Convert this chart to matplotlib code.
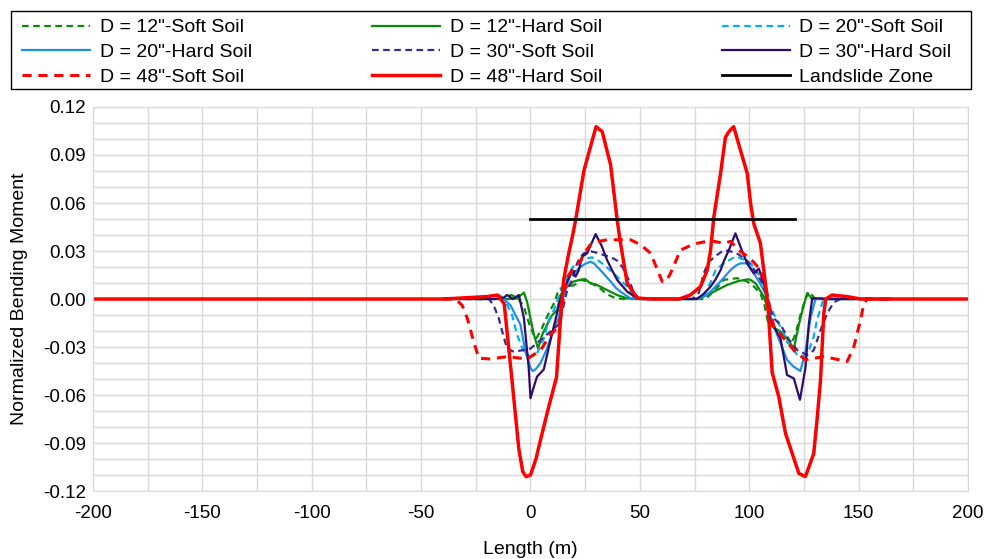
import numpy as np
from matplotlib import pyplot as plt
from matplotlib.ticker import MultipleLocator
from matplotlib.patches import Rectangle

plt.rcParams['font.family'] = ['Liberation Sans', 'DejaVu Sans']
plt.rcParams['axes.unicode_minus'] = False

# ---- data (Length m, normalized moment) ----
# D = 12" soft soil
x_12_soft = [-40, -35, -25, -12, -9, -6, -3, 0, 2.5, 5, 6.9, 9.1, 11, 12.9, 16, 19.8, 23, 26, 29, 32, 35, 38, 42,
             80, 84, 88.4, 94.5, 99, 102, 105.1, 107, 108.5, 112.8, 118.9, 121.1, 123.4, 125.7, 127.2, 130.3, 155, 160]
y_12_soft = [0, 0.0005, 0, 0, 0.0025, 0.001, -0.005, -0.018, -0.025, -0.019, -0.013, -0.007, -0.002, 0.006, 0.008,
             0.0085, 0.012, 0.011, 0.009, 0.0065, 0.003, 0.001, 0,
             0, 0.005, 0.012, 0.013, 0.011, 0.008, 0.0036, -0.004, -0.014, -0.02, -0.029, -0.022, -0.01, 0, 0.0046,
             0, 0.0005, 0]

# D = 12" hard soil
x_12_hard = [-40, -10, -6.1, -3, -1.5, 0, 1.5, 3.5, 5.3, 7.6, 9.9, 12.2, 13.7, 16.8, 19.8, 22.9, 25, 27.4, 30, 32,
             35, 39.6, 44.2, 48, 76.2, 80.8, 85.3, 89.9, 94.5, 99.1, 100.5, 102.9, 106.7, 108, 111.2, 114, 117.3,
             120.4, 122.7, 124.9, 126.5, 128.8, 165]
y_12_hard = [0, 0, 0.0004, 0.004, -0.002, -0.012, -0.022, -0.031, -0.0225, -0.016, -0.01, -0.007, 0.0025, 0.0077,
             0.011, 0.012, 0.0125, 0.0098, 0.009, 0.0077, 0.0056, 0.0025, 0.0004, 0, 0, 0.0025, 0.0056, 0.0088,
             0.011, 0.0123, 0.012, 0.0098, 0.0015, -0.004, -0.018, -0.02, -0.0246, -0.031, -0.016, -0.004, 0.0036,
             0, 0]

# D = 20" soft soil
x_20_soft = [-40, -12, -8.4, -6.1, -3, 0, 3, 6, 8.4, 11, 13, 16, 19.8, 24.4, 28, 30, 34, 39.6, 44.2, 47, 50,
             77, 80, 82.5, 84.6, 88, 93.7, 97, 100.6, 105.1, 108, 110, 113, 116, 119, 122, 125, 127, 129.5, 131,
             132.6, 134, 165]
y_20_soft = [0, 0, -0.01, -0.0225, -0.033, -0.036, -0.034, -0.025, -0.013, -0.006, 0.002, 0.012, 0.021, 0.025,
             0.026, 0.025, 0.021, 0.014, 0.0077, 0.002, 0,
             0, 0.004, 0.011, 0.018, 0.022, 0.0265, 0.025, 0.0223, 0.014, 0.004, -0.006, -0.014, -0.022, -0.03,
             -0.035, -0.036, -0.033, -0.0235, -0.013, -0.006, 0, 0]

# D = 20" hard soil
x_20_hard = [-40, -13.7, -9.1, -4.6, -2.3, 0, 1, 2.3, 4.6, 7.6, 10.7, 12.9, 14.5, 16, 18.3, 20.5, 22.9, 25, 27.4,
             29, 32, 34, 36.6, 39, 41.1, 45.7, 50, 75, 76.9, 80, 82.3, 86.9, 91.4, 94, 96, 99, 101.3, 104.4, 107.4,
             108.9, 112.8, 117.3, 120, 123.4, 125.7, 128, 130.3, 165]
y_20_hard = [0, 0.002, -0.004, -0.016, -0.033, -0.043, -0.045, -0.044, -0.04, -0.031, -0.018, -0.012, 0, 0.006,
             0.015, 0.017, 0.02, 0.022, 0.0233, 0.0223, 0.018, 0.015, 0.011, 0.007, 0.0046, 0.0004, 0, 0, 0.0004,
             0.002, 0.0046, 0.011, 0.018, 0.021, 0.0223, 0.0223, 0.018, 0.011, 0.0036, -0.008, -0.0225, -0.038,
             -0.042, -0.045, -0.033, -0.012, 0, 0]

# D = 30" soft soil
x_30_soft = [-40, -19, -16.8, -14.5, -12.9, -10.7, -7.6, -3.8, 0, 4.6, 9.1, 12.9, 14.5, 16.5, 19, 21.3, 22.9, 24.4,
             27, 30, 33.5, 37, 39.6, 42, 44.2, 45.7, 47.2, 50, 74, 77, 79.2, 81.5, 85.3, 88.4, 91, 95, 99, 103.6,
             106, 108, 109.5, 111.2, 114.3, 118, 122, 126.5, 129.5, 133, 135.6, 138.7, 141.7, 165]
y_30_soft = [0, 0, -0.004, -0.012, -0.0204, -0.031, -0.033, -0.032, -0.031, -0.0256, -0.0204, -0.016, -0.008,
             0.004, 0.012, 0.0223, 0.0265, 0.0285, 0.03, 0.029, 0.0275, 0.026, 0.024, 0.02, 0.014, 0.0098, 0.0036,
             0, 0, 0.004, 0.016, 0.0233, 0.0275, 0.0306, 0.03, 0.028, 0.024, 0.016, 0.0098, 0.002, -0.006, -0.012,
             -0.016, -0.025, -0.032, -0.035, -0.032, -0.018, -0.009, -0.002, 0, 0]

# D = 30" hard soil
x_30_hard = [-40, -16, -12, -10.7, -8, -5.3, -3, -0.8, 0, 1.5, 3, 6.1, 8.4, 10.7, 13.7, 16.8, 19, 20.6, 22.1,
             23.6, 25.9, 29.8, 32.7, 35, 37.3, 39.6, 44.2, 48.8, 76, 79, 82.3, 84.5, 86.9, 88.5, 90.7, 93.7, 96, 99,
             102.1, 104.4, 106.7, 108, 109.7, 112, 114.3, 117.3, 120.4, 123.2, 125.7, 127.2, 128.8, 132.6, 135, 165]
y_30_hard = [0, 0, 0.001, 0.0025, 0, 0.0025, -0.012, -0.043, -0.062, -0.055, -0.0485, -0.044, -0.03, -0.017, 0,
             0.011, 0.018, 0.014, 0.018, 0.0265, 0.0285, 0.0406, 0.0327, 0.0244, 0.018, 0.012, 0.0046, 0.0004,
             0, 0.003, 0.0077, 0.012, 0.018, 0.024, 0.0306, 0.041, 0.0327, 0.0223, 0.016, 0.019, 0.0098, 0.002,
             -0.014, -0.019, -0.0246, -0.0475, -0.0496, -0.063, -0.043, -0.016, 0.0004, 0.0004, 0, 0]

# D = 48" soft soil
x_48_soft = [-40, -34.3, -31.2, -28.9, -25.9, -23.6, -18.3, -10.7, -1.5, 4.6, 9.1, 12.9, 14, 15.5, 17, 19.5, 22.9,
             25.1, 27.4, 31.2, 35, 39.6, 45.7, 50.3, 54.9, 57.5, 60.2, 62, 64, 68.6, 74.7, 82.3, 88.4, 91.4, 96,
             100, 104, 107, 109, 111.2, 115.8, 121.1, 125.7, 134.1, 144.8, 147.8, 150.9, 152.4, 153.9, 165]
y_48_soft = [0, 0, -0.004, -0.012, -0.027, -0.037, -0.0375, -0.036, -0.0375, -0.032, -0.0225, -0.017, -0.01,
             0.005, 0.014, 0.019, 0.024, 0.0296, 0.034, 0.036, 0.037, 0.037, 0.037, 0.034, 0.0286, 0.02, 0.011,
             0.011, 0.016, 0.0306, 0.0344, 0.0365, 0.0348, 0.036, 0.0296, 0.026, 0.02, 0.012, -0.003, -0.017,
             -0.0246, -0.033, -0.038, -0.036, -0.039, -0.03, -0.013, -0.003, 0, 0]

# D = 48" hard soil
x_48_hard = [-200, -40, -20, -15, -12, -8.5, -5.3, -3.5, -2, 0, 2.5, 4.6, 8.4, 11.9, 13.7, 15.2, 16, 17.5, 19,
             20.6, 24.4, 28.2, 30, 32.8, 36.6, 39.6, 40.8, 44.2, 48.8, 55, 68, 73.1, 77.7, 80.8, 82.3, 83.8, 86.9,
             89.1, 90.7, 92.9, 96, 99.1, 100.6, 102.1, 105.1, 107.4, 108.7, 110.5, 113.5, 116.6, 122.7, 125.7,
             129.5, 131, 132.6, 134.1, 135, 137.9, 144.8, 151, 200]
y_48_hard = [0, 0, 0.0015, 0.0025, -0.003, -0.05, -0.094, -0.108, -0.111, -0.11, -0.1, -0.088, -0.067, -0.049,
             -0.013, 0.012, 0.018, 0.0285, 0.038, 0.049, 0.08, 0.099, 0.1077, 0.1046, 0.084, 0.05, 0.038, 0.0098,
             0.0006, 0, 0, 0.0025, 0.0077, 0.018, 0.03, 0.051, 0.0785, 0.101, 0.1046, 0.1077, 0.093, 0.0785, 0.06,
             0.047, 0.035, 0.0098, -0.007, -0.046, -0.061, -0.084, -0.109, -0.111, -0.0965, -0.0756, -0.0506,
             -0.009, 0, 0.0025, 0.0015, 0, 0]

# landslide zone
x_slide = [0, 121]
y_slide = [0.05, 0.05]

green = '#0a8a0a'
lblue = '#00b0f0'
blue = '#1f8fe5'
purple = '#3f2a8a'
navy = '#2b0c6e'
red = '#ff0000'

fig = plt.figure(figsize=(9.85, 5.59), dpi=100)
ax = fig.add_axes([0.0944, 0.1216, 0.8883, 0.687])

h = {}
h['12s'], = ax.plot(x_12_soft, y_12_soft, color=green, lw=1.6, dashes=(3, 2), label='D = 12"-Soft Soil')
h['12h'], = ax.plot(x_12_hard, y_12_hard, color=green, lw=1.6, label='D = 12"-Hard Soil')
h['20s'], = ax.plot(x_20_soft, y_20_soft, color=lblue, lw=1.6, dashes=(3, 2), label='D = 20"-Soft Soil')
h['20h'], = ax.plot(x_20_hard, y_20_hard, color=blue, lw=1.6, label='D = 20"-Hard Soil')
h['30s'], = ax.plot(x_30_soft, y_30_soft, color=purple, lw=1.6, dashes=(3, 2), label='D = 30"-Soft Soil')
h['30h'], = ax.plot(x_30_hard, y_30_hard, color=navy, lw=1.6, label='D = 30"-Hard Soil')
h['48s'], = ax.plot(x_48_soft, y_48_soft, color=red, lw=2.2, dashes=(3, 2.2), label='D = 48"-Soft Soil')
h['48h'], = ax.plot(x_48_hard, y_48_hard, color=red, lw=2.5, label='D = 48"-Hard Soil')
h['lz'], = ax.plot(x_slide, y_slide, color='black', lw=2.0, label='Landslide Zone')

ax.set_xlim(-200, 200)
ax.set_ylim(-0.12, 0.12)
ax.xaxis.set_major_locator(MultipleLocator(50))
ax.xaxis.set_minor_locator(MultipleLocator(25))
ax.yaxis.set_major_locator(MultipleLocator(0.03))
ax.yaxis.set_minor_locator(MultipleLocator(0.01))
ax.yaxis.set_major_formatter(lambda v, p: f'{v:.2f}')
ax.grid(which='both', color='#d9d9d9', lw=1.0)
ax.set_axisbelow(True)
for s in ax.spines.values():
    s.set_color('#d9d9d9')
ax.tick_params(which='both', length=0, labelsize=13.5, colors='black')
ax.tick_params(axis='x', pad=10)
ax.tick_params(axis='y', pad=5)

ax.set_xlabel('Length (m)', fontsize=14)
ax.set_ylabel('Normalized Bending Moment', fontsize=14)
ax.xaxis.set_label_coords(0.5, -0.13)
ax.yaxis.set_label_coords(-0.074, 0.5)

# legend is filled column by column, so reorder to get the row layout
order = ['12s', '20h', '48s', '12h', '30s', '48h', '20s', '30h', 'lz']
fig.legend([h[k] for k in order], [h[k].get_label() for k in order],
           loc='upper left', bbox_to_anchor=(0.0142, 0.0, 0.960, 0.981), mode='expand', ncol=3,
           fontsize=14, frameon=False, borderaxespad=0, handlelength=3.5, handletextpad=0.5,
           labelspacing=0.36, borderpad=0.42)
# legend box drawn separately so it can be wider than the entries
fig.patches.append(Rectangle((0.0112, 0.8408), 0.9746, 0.1395, transform=fig.transFigure,
                             fill=False, edgecolor='black', lw=1.0))

plt.savefig('out.png', dpi=100)
